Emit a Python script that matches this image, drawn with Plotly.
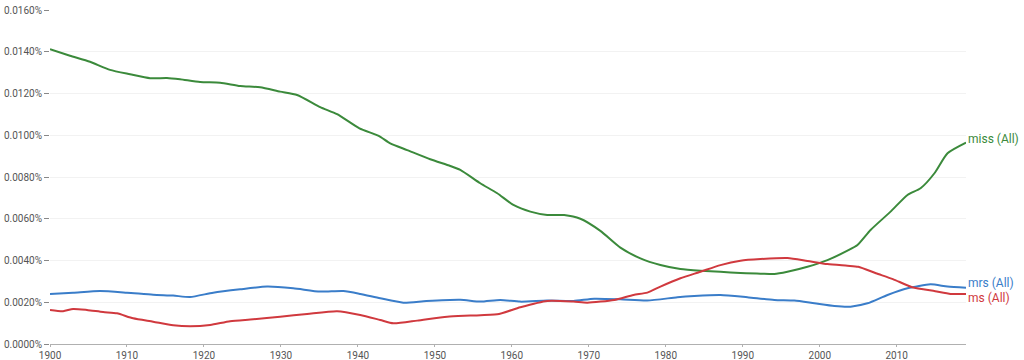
import plotly.graph_objects as go

# values in percent
miss_years = [1900, 1902.6, 1905.2, 1907.8, 1910.4, 1913, 1915.2, 1916.9, 1919.5, 1922.1, 1924.7, 1927.3, 1929.9,
              1932.1, 1935.1, 1937.3, 1940.2, 1942.7, 1944.2, 1946.4, 1949.4, 1952, 1953.3, 1955.9, 1958.1, 1960.2,
              1962.4, 1964.6, 1966.8, 1968.9, 1971.5, 1974.1, 1976.7, 1979.3, 1981.9, 1984.5, 1987.1, 1989.7,
              1992.3, 1994.1, 1995.8, 1998.4, 2001, 2003.6, 2004.9, 2006.6, 2009.2, 2011.4, 2013.1, 2014.9,
              2016.6, 2019]
miss_vals = [0.01412, 0.01381, 0.01352, 0.01313, 0.01292, 0.01273, 0.01274, 0.01268, 0.01255, 0.01252, 0.01236,
             0.01230, 0.01209, 0.01193, 0.01135, 0.01101, 0.01033, 0.00997, 0.00961, 0.00929, 0.00885, 0.00853,
             0.00834, 0.00770, 0.00722, 0.00666, 0.00634, 0.00618, 0.00618, 0.00600, 0.00542, 0.00462, 0.00410,
             0.00378, 0.00359, 0.00351, 0.00346, 0.00340, 0.00337, 0.00335, 0.00346, 0.00370, 0.00402, 0.00447,
             0.00474, 0.00546, 0.00634, 0.00714, 0.00746, 0.00818, 0.00914, 0.00965]

mrs_years = [1900, 1903, 1906.5, 1910, 1913.4, 1916, 1918.2, 1921.2, 1924.7, 1928.2, 1931.6, 1935.1, 1938.1,
             1940.3, 1942.9, 1945.9, 1948.9, 1953.3, 1955.9, 1958.5, 1961.1, 1964.6, 1968, 1970.7, 1974.1,
             1977.6, 1981.5, 1983.7, 1987.1, 1990.6, 1994.1, 1996.7, 1999.3, 2001.9, 2004, 2006.2, 2008.8,
             2011.4, 2014.4, 2016.6, 2019]
mrs_vals = [0.00240, 0.00246, 0.00254, 0.00246, 0.00236, 0.00232, 0.00225, 0.00246, 0.00262, 0.00275, 0.00267,
            0.00251, 0.00254, 0.00240, 0.00219, 0.00198, 0.00206, 0.00212, 0.00203, 0.00211, 0.00203, 0.00208,
            0.00206, 0.00217, 0.00214, 0.00208, 0.00224, 0.00230, 0.00235, 0.00224, 0.00211, 0.00208, 0.00195,
            0.00182, 0.00179, 0.00195, 0.00235, 0.00267, 0.00286, 0.00275, 0.00270]

ms_years = [1900, 1901.7, 1903, 1904.8, 1906.9, 1908.7, 1910.8, 1913.4, 1916, 1918.2, 1920.8, 1923.4, 1926.4,
            1929.9, 1933.4, 1937.3, 1940.3, 1942.9, 1944.6, 1947.7, 1951.6, 1954.6, 1958.1, 1961.1, 1964.6,
            1968, 1969.8, 1973.3, 1975.8, 1977.6, 1979.3, 1981.9, 1984.5, 1987.1, 1989.7, 1992.3, 1995.8,
            1998.4, 2001, 2003.6, 2005, 2007.3, 2009.5, 2012, 2015, 2017, 2019]
ms_vals = [0.00163, 0.00157, 0.00168, 0.00163, 0.00153, 0.00147, 0.00123, 0.00107, 0.00090, 0.00085, 0.00091,
           0.00109, 0.00118, 0.00131, 0.00144, 0.00157, 0.00139, 0.00115, 0.00099, 0.00112, 0.00131, 0.00136,
           0.00142, 0.00176, 0.00206, 0.00203, 0.00198, 0.00211, 0.00235, 0.00246, 0.00275, 0.00315, 0.00346,
           0.00378, 0.00399, 0.00407, 0.00412, 0.00398, 0.00383, 0.00375, 0.00370, 0.00339, 0.00311, 0.00272,
           0.00253, 0.00240, 0.00240]

series = [
    ("miss (All)", miss_years, miss_vals, "#3b8a3b"),
    ("mrs (All)", mrs_years, mrs_vals, "#3a7dc9"),
    ("ms (All)", ms_years, ms_vals, "#d0393e"),
]

y_ticks = [0, 0.002, 0.004, 0.006, 0.008, 0.010, 0.012, 0.014, 0.016]
y_tick_labels = ["0.0000%", "0.0020%", "0.0040%", "0.0060%", "0.0080%", "0.0100%", "0.0120%", "0.0140%", "0.0160%"]
x_ticks = [1900, 1910, 1920, 1930, 1940, 1950, 1960, 1970, 1980, 1990, 2000, 2010]

fig = go.Figure()
for name, xs, ys, col in series:
    fig.add_trace(go.Scatter(x=xs, y=ys, mode="lines", name=name, hoverinfo="skip",
                             line=dict(color=col, width=2, shape="spline", smoothing=0.6)))

label_offsets = {"miss (All)": 0.00015, "mrs (All)": 0.0002, "ms (All)": -0.0002}
for name, xs, ys, col in series:
    fig.add_annotation(x=xs[-1], y=ys[-1] + label_offsets[name], text=name, showarrow=False,
                       xanchor="left", yanchor="middle", xshift=0,
                       font=dict(color=col, size=12, family="Roboto"))

fig.update_layout(
    width=1024, height=360,
    margin=dict(l=50, r=58, t=10, b=16),
    plot_bgcolor="white", paper_bgcolor="white",
    showlegend=False,
    font=dict(family="Roboto", color="#666666", size=10),
)
fig.update_xaxes(range=[1900, 2019], tickvals=x_ticks, showgrid=False, zeroline=False,
                 showline=True, linecolor="#b0b0b0", linewidth=1, automargin=False,
                 ticks="outside", ticklen=2, tickcolor="#b0b0b0",
                 tickfont=dict(size=10, color="#555555"))
fig.update_yaxes(range=[0, 0.016], tickvals=y_ticks, ticktext=y_tick_labels, automargin=False,
                 showgrid=True, gridcolor="#f2f2f2", zeroline=False, showline=False,
                 ticks="outside", ticklen=5, tickcolor="#888888",
                 tickfont=dict(size=10, color="#555555"))

fig.write_html("out.html", config={"displayModeBar": False},
               post_script="document.body.style.margin='0';document.body.style.overflow='hidden';")
